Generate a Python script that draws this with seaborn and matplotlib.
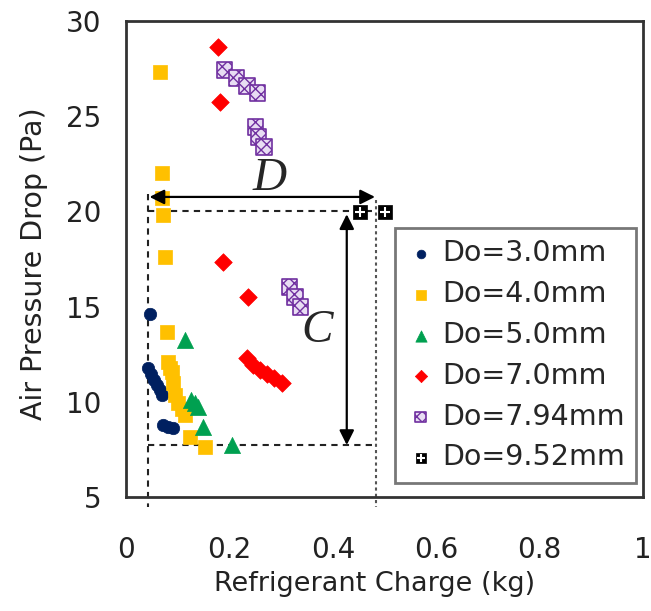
import matplotlib
matplotlib.use("Agg")
import matplotlib.pyplot as plt
import seaborn as sns
import pandas as pd
import numpy as np

# ---------------- data ----------------
d30_x = [0.046, 0.043, 0.048, 0.054, 0.060, 0.066, 0.070, 0.072, 0.081, 0.091]
d30_y = [14.61, 11.77, 11.46, 11.14, 10.88, 10.62, 10.36, 8.78, 8.68, 8.62]

d40_x = [0.066, 0.070, 0.070, 0.072, 0.075, 0.079, 0.081, 0.085, 0.089, 0.091,
         0.095, 0.101, 0.108, 0.114, 0.124, 0.153]
d40_y = [27.32, 22.02, 20.70, 19.81, 17.61, 13.67, 12.09, 11.80, 11.57, 10.99,
         10.36, 9.94, 9.60, 9.31, 8.15, 7.63]

d50_x = [0.114, 0.126, 0.133, 0.139, 0.149, 0.205]
d50_y = [13.25, 10.10, 9.94, 9.73, 8.68, 7.73]

d70_x = [0.178, 0.182, 0.188, 0.236, 0.234, 0.246, 0.259, 0.273, 0.286, 0.302]
d70_y = [28.63, 25.75, 17.34, 15.50, 12.30, 11.93, 11.67, 11.46, 11.25, 10.99]

d794_x = [0.191, 0.213, 0.234, 0.255, 0.250, 0.257, 0.267, 0.317, 0.327, 0.337]
d794_y = [27.43, 27.01, 26.59, 26.22, 24.43, 23.91, 23.38, 16.03, 15.50, 14.98]

d952_x = [0.453, 0.501]
d952_y = [19.97, 19.97]

series_labels = ["Do=3.0mm", "Do=4.0mm", "Do=5.0mm", "Do=7.0mm", "Do=7.94mm", "Do=9.52mm"]

x_ticks = [0, 0.2, 0.4, 0.6, 0.8, 1.0]
x_ticklabels = ["0", "0.2", "0.4", "0.6", "0.8", "1"]
y_ticks = [5, 10, 15, 20, 25, 30]
y_ticklabels = ["5", "10", "15", "20", "25", "30"]

# annotation reference values
d_left, d_right = 0.0425, 0.4836
c_top, c_bottom = 20.0, 7.73

# ---------------- figure ----------------
sns.set_theme(style="white")
plt.rcParams["font.family"] = ["DejaVu Sans"]

fig = plt.figure(figsize=(6.51, 6.11), dpi=100)
ax = fig.add_axes([126 / 651, 1 - 497 / 611, 517 / 651, 476 / 611])

dfs = {
    "d30": pd.DataFrame({"x": d30_x, "y": d30_y}),
    "d40": pd.DataFrame({"x": d40_x, "y": d40_y}),
    "d50": pd.DataFrame({"x": d50_x, "y": d50_y}),
    "d70": pd.DataFrame({"x": d70_x, "y": d70_y}),
    "d794": pd.DataFrame({"x": d794_x, "y": d794_y}),
    "d952": pd.DataFrame({"x": d952_x, "y": d952_y}),
}

handles = []
sns.scatterplot(data=dfs["d30"], x="x", y="y", ax=ax, marker="o", s=80,
                color="#002060", edgecolor="#002060", linewidth=0.5, zorder=3)
handles.append(ax.collections[-1])
sns.scatterplot(data=dfs["d40"], x="x", y="y", ax=ax, marker="s", s=105,
                color="#FFC000", edgecolor="#FFC000", linewidth=0.5, zorder=3)
handles.append(ax.collections[-1])
sns.scatterplot(data=dfs["d50"], x="x", y="y", ax=ax, marker="^", s=135,
                color="#00A050", edgecolor="#00A050", linewidth=0.5, zorder=3)
handles.append(ax.collections[-1])
sns.scatterplot(data=dfs["d70"], x="x", y="y", ax=ax, marker="D", s=80,
                color="#FF0000", edgecolor="#FF0000", linewidth=0.5, zorder=3)
handles.append(ax.collections[-1])
sns.scatterplot(data=dfs["d794"], x="x", y="y", ax=ax, marker="s", s=120,
                color="#E8DDF3", edgecolor="#7030A0", linewidth=1.2,
                hatch="xxx", zorder=3)
handles.append(ax.collections[-1])
sns.scatterplot(data=dfs["d952"], x="x", y="y", ax=ax, marker="s", s=105,
                color="black", edgecolor="black", linewidth=0.5, zorder=4)
sq = ax.collections[-1]
sns.scatterplot(data=dfs["d952"], x="x", y="y", ax=ax, marker="+", s=60,
                color="white", linewidth=1.5, zorder=5)
pl = ax.collections[-1]
handles.append((sq, pl))

# ---------------- annotations ----------------
dash_kw = dict(color="#222222", lw=1.5, ls=(0, (3, 2.5)), zorder=2)
ax.plot([d_left, d_right], [c_top, c_top], **dash_kw)
ax.plot([d_left, d_right], [c_bottom, c_bottom], **dash_kw)
ax.plot([d_left, d_left], [20.9, 4.45], clip_on=False, **dash_kw)
ax.plot([d_right, d_right], [20.6, 4.45], clip_on=False,
        color="#555555", lw=1.5, ls=(0, (1.5, 1.5)), zorder=2)

ax.annotate("", xy=(d_left + 0.003, 20.76), xytext=(d_right - 0.002, 20.76),
            arrowprops=dict(arrowstyle="<|-|>", color="black", lw=1.6,
                            mutation_scale=22, shrinkA=0, shrinkB=0))
ax.annotate("", xy=(0.427, c_top - 0.15), xytext=(0.427, c_bottom),
            arrowprops=dict(arrowstyle="<|-|>", color="black", lw=1.6,
                            mutation_scale=22, shrinkA=0, shrinkB=0))
ax.text(0.278, 21.7, "D", fontsize=34, fontstyle="italic",
        family=["Liberation Serif", "DejaVu Serif"], ha="center", va="center")
ax.text(0.369, 13.75, "C", fontsize=34, fontstyle="italic",
        family=["Liberation Serif", "DejaVu Serif"], ha="center", va="center")

# ---------------- axes styling ----------------
ax.set_xlim(0, 1)
ax.set_ylim(5, 30)
ax.set_xticks(x_ticks)
ax.set_xticklabels(x_ticklabels)
ax.set_yticks(y_ticks)
ax.set_yticklabels(y_ticklabels)
ax.tick_params(axis="both", direction="in", length=5, width=1.5,
               colors="#333333", labelcolor="#222222", labelsize=20)
ax.tick_params(axis="x", pad=28)
ax.tick_params(axis="y", pad=18)
for sp in ax.spines.values():
    sp.set_color("#333333")
    sp.set_linewidth(2)

ax.set_xlabel("Refrigerant Charge (kg)", fontsize=19.5, color="#222222")
ax.set_ylabel("Air Pressure Drop (Pa)", fontsize=20.5, color="#222222")
ax.xaxis.set_label_coords(0.48, -0.155)
ax.yaxis.set_label_coords(-0.15, 0.49)

leg = ax.legend(handles, series_labels, loc="upper left",
                bbox_to_anchor=((395 - 126) / 517, (497 - 228) / 476),
                frameon=True, fancybox=False, fontsize=20.5, markerscale=0.7,
                handletextpad=0.25, handlelength=1.0, labelspacing=0.45,
                borderpad=0.4, borderaxespad=0)
leg.get_frame().set_edgecolor("#555555")
leg.get_frame().set_linewidth(2)

fig.savefig("out.png", dpi=100)
